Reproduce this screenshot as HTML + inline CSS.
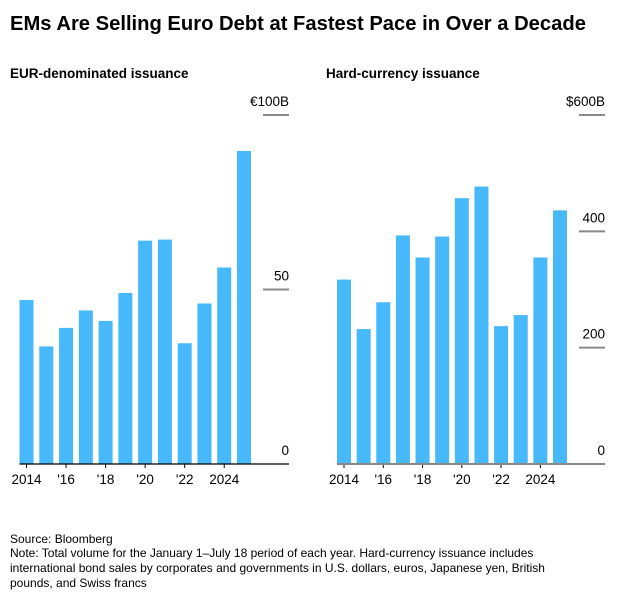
<!DOCTYPE html>
<html><head><meta charset="utf-8"><style>
body{margin:0;background:#fff;font-family:"Liberation Sans",sans-serif;}
svg text{font-family:"Liberation Sans",sans-serif;}
</style></head><body>
<svg width="630" height="601">
<text x="10" y="30" font-size="20.2" font-weight="bold" fill="#000">EMs Are Selling Euro Debt at Fastest Pace in Over a Decade</text>
<text x="10" y="78" font-size="13.5" font-weight="bold">EUR-denominated issuance</text>
<text x="326" y="78" font-size="13.5" font-weight="bold">Hard-currency issuance</text>
<g id="left"></g>
<g id="right"></g>
<g font-size="12" fill="#000">
<text x="10" y="543">Source: Bloomberg</text>
<text x="10" y="557">Note: Total volume for the January 1–July 18 period of each year. Hard-currency issuance includes</text>
<text x="10" y="572">international bond sales by corporates and governments in U.S. dollars, euros, Japanese yen, British</text>
<text x="10" y="587">pounds, and Swiss francs</text>
</g>
</svg>
<script>
const years=[2014,2015,2016,2017,2018,2019,2020,2021,2022,2023,2024,2025];
const xLabels=['2014','','\'16','','\'18','','\'20','','\'22','','2024',''];
const eurValues=[47,33.7,39,44,41,49,64,64.3,34.6,46,56.3,89.7];
const hardValues=[317,232,278,393,355,391,457,477,237,256,355,436];
const eurTicks=[0,50,100];
const eurTickLabels=['0','50','€100B'];
const hardTicks=[0,200,400,600];
const hardTickLabels=['0','200','400','$600B'];
const NS='http://www.w3.org/2000/svg';
function mk(p,t,a){const e=document.createElementNS(NS,t);for(const k in a)e.setAttribute(k,a[k]);p.appendChild(e);return e;}
function draw(g,x0,axisR,vals,ticks,labels,max,name,baseCol){
  const base=464,top=115;
  const y=v=>base-(v/max)*(base-top);
  const step=(axisR-x0-52)/11;
  const x=i=>x0+i*step;
  ticks.forEach((t,i)=>{
    if(t>0){const l=mk(g,'line',{x1:axisR-26,x2:axisR,y1:y(t),y2:y(t),stroke:'#888','stroke-width':2});
    
    }
    const tx=mk(g,'text',{x:axisR,y:y(t)-9,'text-anchor':'end','font-size':13.5});
    tx.textContent=labels[i];
    
    
  });
  vals.forEach((v,i)=>{
    const r=mk(g,'rect',{x:x(i),y:y(v),width:14,height:base-y(v),fill:'#47b8fa'});
    
    
    if(xLabels[i]){
      mk(g,'line',{x1:x(i)+7,x2:x(i)+7,y1:base,y2:base+4,stroke:'#000'});
      const t=mk(g,'text',{x:x(i)+7,y:base+20,'text-anchor':'middle','font-size':13.5});
      t.textContent=xLabels[i];
      
      
    }
  });
  const b=mk(g,'line',{x1:x0,x2:axisR,y1:base,y2:base,stroke:baseCol,'stroke-width':baseCol=='#000'?1.2:2});
  
  
}
draw(document.getElementById('left'),19.5,289,eurValues,eurTicks,eurTickLabels,100,'eur','#000');
draw(document.getElementById('right'),337,605,hardValues,hardTicks,hardTickLabels,600,'hard','#888');
</script>
</body></html>
